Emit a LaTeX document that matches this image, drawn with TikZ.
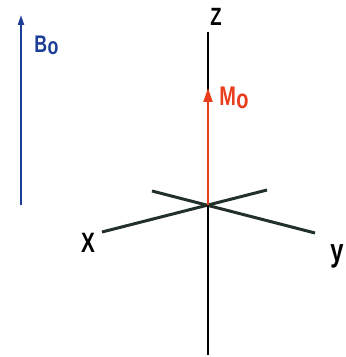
\documentclass[tikz,border=0pt]{standalone}
\usepackage{fontspec}
\setmainfont{Liberation Sans}
\usetikzlibrary{arrows.meta, positioning}
\definecolor{cblue}{RGB}{28,62,150}
\definecolor{cred}{RGB}{232,62,30}
\definecolor{caxis}{RGB}{34,48,42}
% narrow bold label text
\newcommand{\narrowlbl}[2]{\scalebox{0.74}[1]{\fontsize{#1}{#1}\selectfont\bfseries #2}}
\newcommand{\lowo}{\kern0.3pt\raisebox{-0.08em}{o}}

\begin{document}
\begin{tikzpicture}[
  x=0.5pt, y=-0.5pt,
  axis/.style  = {draw=caxis, line width=1.5pt},
  zaxis/.style = {draw=black, line width=1pt},
  vec/.style   = {line width=1pt, -{Triangle[length=7pt, width=4.5pt]}},
  lbl/.style   = {inner sep=0pt},
]
\useasboundingbox (0,0) rectangle (345,357);
% axis end points
\coordinate (O)   at (208,205);
\coordinate (ztop) at (208,32);
\coordinate (zbot) at (208,355);
\coordinate (xend) at (102,232);
\coordinate (xtail) at (267,190);
\coordinate (ytail) at (152,191);
\coordinate (yend) at (315,233);
\coordinate (btail) at (21,205);
\coordinate (btip) at (21,15);
\coordinate (mtip) at (208,88);
% labels
\node[lbl, anchor=base]      (zlbl) at (216,26)  {\narrowlbl{12.5}{Z}};
\node[lbl, anchor=base]      (xlbl) at (88,252)  {\narrowlbl{14}{X}};
\node[lbl, anchor=base]      (ylbl) at (337,261) {\narrowlbl{16}{y}};
\node[lbl, anchor=base west, text=cred]  (mlbl) at (219,106) {\narrowlbl{13.5}{M\lowo}};
\node[lbl, anchor=base west, text=cblue] (blbl) at (34,53)   {\narrowlbl{12}{B\lowo}};
% axes
\draw[axis]  (xend) -- (xtail);
\draw[axis]  (ytail) -- (yend);
\draw[zaxis] (ztop) -- (zbot);
% vectors
\draw[vec, cred] (O) -- (mtip);
\draw[line width=1pt, cblue, -{Triangle[length=5pt, width=3pt]}] (btail) -- (btip);
\end{tikzpicture}
\end{document}
